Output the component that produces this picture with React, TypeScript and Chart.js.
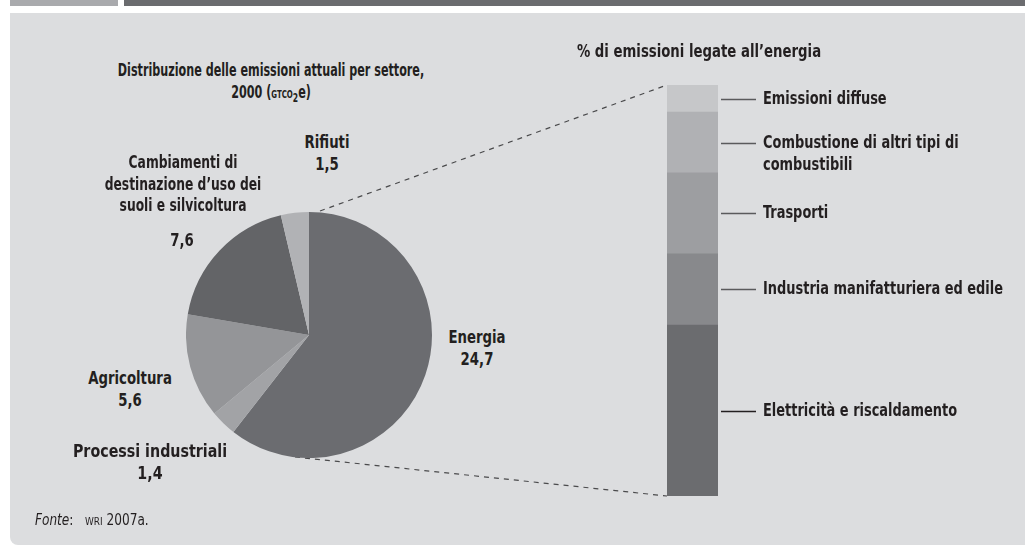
import React, { useEffect, useRef } from "react";
import { Chart, registerables } from "chart.js";

Chart.register(...registerables);

const sectorLabels = ["Energia", "Processi industriali", "Agricoltura", "Cambiamenti di destinazione d'uso dei suoli e silvicoltura", "Rifiuti"];
const sectorValues = [24.7, 1.4, 5.6, 7.6, 1.5];
const sectorColors = ["#6b6c70", "#a2a3a6", "#949598", "#636467", "#b1b2b5"];

// energy breakdown, bottom to top (percent of energy emissions)
const energyLabels = [
  ["Elettricità e riscaldamento"],
  ["Industria manifatturiera ed edile"],
  ["Trasporti"],
  ["Combustione di altri tipi di", "combustibili"],
  ["Emissioni diffuse"],
];
const energyValues = [41.6, 17.3, 19.7, 14.8, 6.6];
const energyColors = ["#6b6c6f", "#88898c", "#9d9ea1", "#b0b1b4", "#c6c7c9"];

const FONT = "'DejaVu Sans Condensed', 'Liberation Sans Narrow', 'Arial Narrow', sans-serif";
const SX = 0.82;
const fmt = (v: number) => v.toFixed(1).replace(".", ",");

function Label(props: { x: number; y: number; sx?: number; size?: number; children: React.ReactNode }) {
  const sx = props.sx ?? SX;
  return (
    <div style={{ position: "absolute", left: props.x, top: props.y, width: 0, height: 0 }}>
      <div
        style={{
          position: "absolute",
          left: 0,
          top: 0,
          transform: `translateX(-50%) scaleX(${sx})`,
          transformOrigin: "50% 0",
          textAlign: "center",
          fontFamily: FONT,
          fontWeight: 700,
          fontSize: props.size ?? 18,
          lineHeight: "21.5px",
          color: "#231f20",
          whiteSpace: "nowrap",
        }}
      >
        {props.children}
      </div>
    </div>
  );
}

export default function App() {
  const pieRef = useRef<HTMLCanvasElement>(null);
  const barRef = useRef<HTMLCanvasElement>(null);

  useEffect(() => {
    const pie = new Chart(pieRef.current!, {
      type: "pie",
      data: {
        labels: sectorLabels,
        datasets: [{ data: sectorValues, backgroundColor: sectorColors, borderWidth: 0 }],
      },
      options: {
        responsive: false,
        animation: false,
        layout: { padding: 0 },
        plugins: { legend: { display: false }, tooltip: { enabled: false } },
      },
    });

    const tickPlugin = {
      id: "segLabels",
      afterDatasetsDraw(chart: any) {
        const ctx = chart.ctx;
        const area = chart.chartArea;
        ctx.save();
        chart.data.datasets.forEach((ds: any, i: number) => {
          const el = chart.getDatasetMeta(i).data[0] as any;
          const cy = Math.round((el.y + el.base) / 2) + 0.5;
          ctx.strokeStyle = i === 0 ? "#231f20" : "#5a5a5c";
          ctx.lineWidth = 1.3;
          ctx.beginPath();
          ctx.moveTo(area.right + 3, cy);
          ctx.lineTo(area.right + 38, cy);
          ctx.stroke();
          ctx.fillStyle = "#231f20";
          ctx.font = `bold 18px ${FONT}`;
          ctx.textBaseline = "middle";
          ctx.textAlign = "left";
          const lines: string[] = energyLabels[i];
          lines.forEach((t, k) => {
            ctx.save();
            ctx.translate(area.right + 45, cy + k * 22);
            ctx.scale(0.8, 1);
            ctx.fillText(t, 0, 0);
            ctx.restore();
          });
        });
        ctx.restore();
      },
    };

    const bar = new Chart(barRef.current!, {
      type: "bar",
      data: {
        labels: ["Energia"],
        datasets: energyValues.map((v, i) => ({
          label: energyLabels[i].join(" "),
          data: [v],
          backgroundColor: energyColors[i],
          borderWidth: 0,
          barPercentage: 1,
          categoryPercentage: 1,
        })),
      },
      options: {
        responsive: false,
        animation: false,
        layout: { padding: { left: 107, right: 307, top: 65, bottom: 14 } },
        scales: {
          x: { stacked: true, display: false },
          y: { stacked: true, display: false, min: 0, max: 100 },
        },
        plugins: { legend: { display: false }, tooltip: { enabled: false } },
      },
      plugins: [tickPlugin],
    });

    return () => {
      pie.destroy();
      bar.destroy();
    };
  }, []);

  return (
    <div style={{ position: "fixed", left: 0, top: 0, width: 1025, height: 548, overflow: "hidden", background: "#ffffff" }}>
      <div style={{ position: "absolute", left: 10, top: 0, width: 108, height: 6, background: "#a9aaad" }} />
      <div style={{ position: "absolute", left: 124, top: 0, width: 920, height: 6, background: "#6b6c6f" }} />
      <div style={{ position: "absolute", left: 10, top: 13, width: 1040, height: 532, background: "#dcdddf", borderBottomLeftRadius: 8 }} />

      <svg width={1025} height={548} style={{ position: "absolute", left: 0, top: 0 }}>
        <line x1={320} y1={211} x2={667} y2={85} stroke="#4a4a4c" strokeWidth={1.2} strokeDasharray="5 5" />
        <line x1={295} y1={457} x2={667} y2={496} stroke="#4a4a4c" strokeWidth={1.2} strokeDasharray="5 5" />
      </svg>

      <canvas ref={pieRef} width={246} height={246} style={{ position: "absolute", left: 186, top: 212, width: 246, height: 246 }} />
      <canvas ref={barRef} width={465} height={490} style={{ position: "absolute", left: 560, top: 20, width: 465, height: 490 }} />

      <Label x={271} y={60} sx={0.71} size={17.5}>
        Distribuzione delle emissioni attuali per settore,
        <br />
        2000 (<span style={{ fontVariant: "small-caps", fontSize: 15 }}>gtco</span>
        <sub style={{ fontSize: 12, verticalAlign: "-4px" }}>2</sub>e)
      </Label>
      <Label x={699} y={40}>% di emissioni legate all’energia</Label>

      <Label x={327} y={131}>
        Rifiuti
        <br />
        {fmt(sectorValues[4])}
      </Label>
      <Label x={183} y={151} sx={0.76}>
        Cambiamenti di
        <br />
        destinazione d’uso dei
        <br />
        suoli e silvicoltura
      </Label>
      <Label x={182} y={229}>{fmt(sectorValues[3])}</Label>
      <Label x={477} y={326}>
        {sectorLabels[0]}
        <br />
        {fmt(sectorValues[0])}
      </Label>
      <Label x={130} y={367}>
        {sectorLabels[2]}
        <br />
        {fmt(sectorValues[2])}
      </Label>
      <Label x={150} y={440} sx={0.88}>
        {sectorLabels[1]}
        <br />
        {fmt(sectorValues[1])}
      </Label>

      <div
        style={{
          position: "absolute",
          left: 35,
          top: 511,
          transform: "scaleX(0.9)",
          transformOrigin: "0 0",
          fontFamily: FONT,
          fontSize: 15,
          color: "#231f20",
          whiteSpace: "nowrap",
        }}
      >
        <i>Fonte</i>:&nbsp;&nbsp; <span style={{ fontSize: 11 }}>WRI</span> 2007a.
      </div>
    </div>
  );
}
